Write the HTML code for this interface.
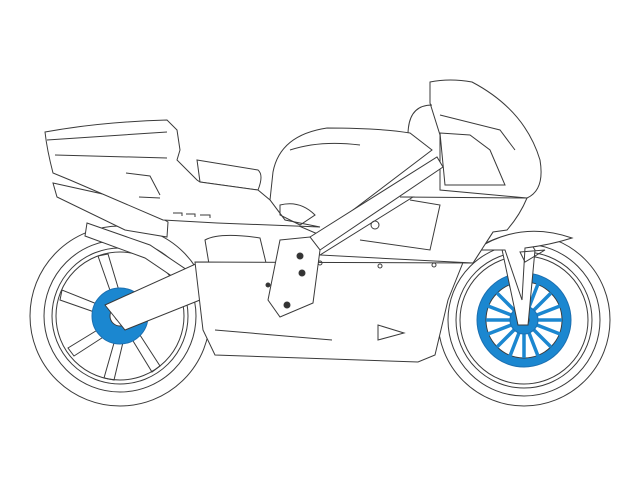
<!DOCTYPE html>
<html><head><meta charset="utf-8"><style>html,body{margin:0;padding:0;background:#fff}svg{display:block}</style></head>
<body>
<svg width="640" height="480" viewBox="0 0 640 480" xmlns="http://www.w3.org/2000/svg" fill="none" stroke="#3a3a3a" stroke-width="1">
<!-- rear wheel -->
<circle cx="120" cy="316" r="90" fill="#fff"/>
<circle cx="120" cy="316" r="76"/>
<circle cx="120" cy="316" r="68"/>
<circle cx="120" cy="316" r="64"/>
<path d="M112 296 L98 256 L108 254 L120 294 M102 306 L62 290 L60 300 L100 314 M104 326 L68 348 L74 356 L108 334 M116 336 L104 378 L114 380 L124 338 M130 336 L152 372 L160 366 L138 332"/>
<circle cx="120" cy="316" r="28" fill="#1b87d0" stroke="#1b6fb0"/>
<circle cx="120" cy="316" r="10" fill="#fff"/>
<circle cx="120" cy="316" r="5"/>
<!-- exhaust -->
<path d="M87 223 L150 245 L190 272 L185 285 L145 258 L85 236 Z" fill="#fff"/>
<path d="M53 183 L130 200 L168 222 L167 237 L125 230 L57 197 Z" fill="#fff"/>
<!-- swingarm -->
<path d="M105 305 L200 262 L240 262 L245 285 L200 300 L125 330 Z" fill="#fff"/>
<!-- lower engine area -->
<path d="M205 240 Q220 232 260 238 L275 300 L240 310 L215 300 Z" fill="#fff"/>
<!-- front wheel -->
<circle cx="524" cy="320" r="86" fill="#fff"/>
<circle cx="524" cy="320" r="76"/>
<circle cx="524" cy="320" r="68"/>
<circle cx="524" cy="320" r="64"/>
<circle cx="524" cy="320" r="47" fill="#1b87d0" stroke="#1b6fb0"/>
<circle cx="524" cy="320" r="38" fill="#fff"/>
<g stroke="#1b87d0" stroke-width="3.5">
<path d="M524 282 L524 358 M486 320 L562 320 M497 293 L551 347 M551 293 L497 347 M510 284 L538 356 M538 284 L510 356 M488 306 L560 334 M488 334 L560 306"/>
</g>
<circle cx="524" cy="320" r="14" fill="#1b87d0" stroke="#1b6fb0"/>
<circle cx="524" cy="320" r="5" fill="#fff"/>
<!-- lower fairing / belly -->
<path d="M195 262 L473 263 L493 232 L470 245 L448 300 L435 355 L418 362 L215 355 L203 330 Z" fill="#fff"/>
<path d="M215 330 L332 340"/>
<path d="M378 325 L404 333 L378 340 Z"/>
<circle cx="320" cy="263" r="2"/><circle cx="380" cy="266" r="2"/><circle cx="434" cy="265" r="2"/>
<!-- fork & fender -->
<path d="M500 240 L525 235 L535 250 L528 325 L518 325 Z" fill="#fff"/>
<path d="M475 250 Q520 220 572 238 Q550 245 525 248 L522 300 L505 250 Z" fill="#fff"/>
<path d="M520 252 L545 250 L525 262 Z"/>
<!-- side fairing -->
<path d="M400 197 L527 198 Q520 215 507 230 L493 232 L473 263 L320 255 L413 197 Z" fill="#fff"/>
<path d="M410 200 L440 205 L430 250 L360 240"/>
<circle cx="375" cy="225" r="4"/>
<!-- upper fairing -->
<path d="M430 82 Q450 78 472 82 Q525 110 540 160 Q545 190 527 198 L440 190 L440 135 L430 103 Z" fill="#fff"/>
<path d="M440 115 L500 130 L515 150"/>
<path d="M440 133 L470 135 L490 150 L505 185 L445 185 Z"/>
<path d="M408 135 Q408 105 432 105"/>
<!-- tank -->
<path d="M273 172 Q280 135 327 128 Q380 128 410 133 L432 150 L320 235 L285 220 L270 200 Z" fill="#fff"/>
<path d="M290 150 Q320 140 360 145"/>
<!-- frame beam -->
<path d="M310 237 L437 157 L443 167 L320 250 Z" fill="#fff"/>
<path d="M280 240 L310 237 L320 250 L313 303 L280 317 L268 300 Z" fill="#fff"/>
<circle cx="300" cy="256" r="3" fill="#333"/><circle cx="302" cy="273" r="3" fill="#333"/><circle cx="287" cy="305" r="3" fill="#333"/><circle cx="268" cy="285" r="2" fill="#333"/>
<!-- seat -->
<path d="M197 160 L258 170 Q264 175 258 190 L200 182 Z" fill="#fff"/>
<!-- tail -->
<path d="M45 132 Q100 122 167 120 L177 130 L180 150 L177 160 L187 170 L197 180 L200 182 L258 190 L270 200 L285 220 L320 227 L217 223 L163 220 L70 180 L53 173 Q47 150 45 132 Z" fill="#fff"/>
<path d="M47 140 L167 132 M55 155 L167 158"/>
<path d="M126 173 L150 176 L160 195 M139 197 L160 198"/>
<path d="M173 213 L182 213 L182 216 M186 214 L195 214 L195 217 M200 215 L210 215 L210 218"/>
<path d="M280 205 Q300 200 315 215 L300 225 L280 215 Z"/>
</svg>
</body></html>
